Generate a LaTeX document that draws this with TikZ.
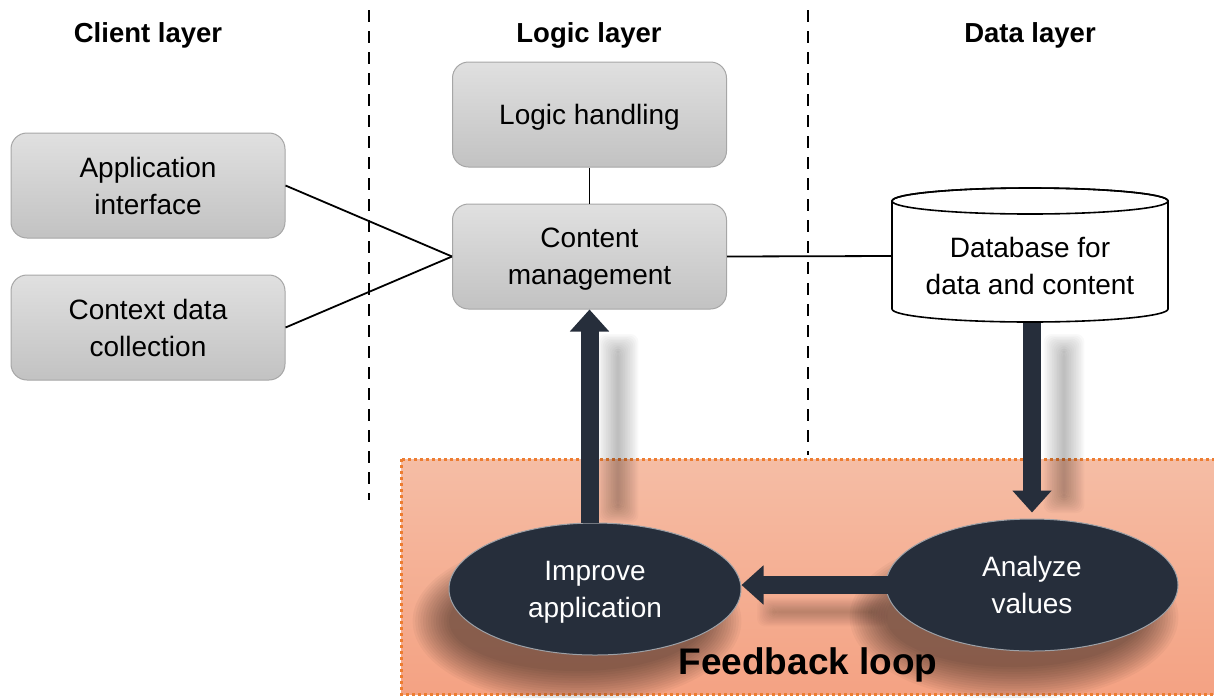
\documentclass[tikz,border=0pt]{standalone}
\usepackage{fontspec}
\setmainfont{Liberation Sans}
\usetikzlibrary{arrows.meta,shapes.geometric}
\definecolor{boxedge}{HTML}{A6A6A6}
\definecolor{boxtop}{HTML}{E0E0E0}
\definecolor{boxbot}{HTML}{C2C2C2}
\definecolor{navy}{HTML}{262E3B}
\definecolor{fbtop}{HTML}{F5BDA5}
\definecolor{fbbot}{HTML}{F4A283}
\definecolor{fbedge}{HTML}{ED7D31}
\begin{document}
\begin{tikzpicture}[x=1pt,y=-1pt,
  txt/.style={font=\fontsize{28}{37}\selectfont, align=center},
  heading/.style={font=\fontsize{27.5}{30}\selectfont\bfseries},
  graybox/.style={txt, text depth=0pt, rectangle, rounded corners=16pt, draw=boxedge, line width=1pt,
    top color=boxtop, bottom color=boxbot, minimum width=274pt, minimum height=105pt},
  darkell/.style={txt, text depth=0pt, ellipse, fill=navy, text=white, draw=white!55!navy, line width=1pt,
    minimum width=292pt, minimum height=132pt, inner sep=0pt},
  layerline/.style={line width=2.5pt, dash pattern=on 12pt off 9pt},
  conn/.style={line width=1.8pt, black},
  bigarrow/.style={line width=18pt, navy, -{Triangle[width=38pt,length=22pt]}},
  softshade/.style={black, opacity=#1},
  softshade/.default=0.03
]
\useasboundingbox (0,0) rectangle (1214,697);

% feedback area
\path[draw=fbedge, line width=3pt, dash pattern=on 3pt off 3pt, top color=fbtop, bottom color=fbbot]
  (401,459) rectangle (1224,694);

% layer separators
\coordinate (s1t) at (369,10);
\coordinate (s1b) at (369,500);
\coordinate (s2t) at (808,10);
\coordinate (s2b) at (808,455);
\draw[layerline] (s1t) -- (s1b);
\draw[layerline] (s2t) -- (s2b);

% headings
\node[heading] (h1) at (148,35) {Client layer};
\node[heading] (h2) at (589,35) {Logic layer};
\node[heading] (h3) at (1030,35) {Data layer};

% soft shadows of the arrows
\foreach \i in {1,...,12}{
  \fill[softshade=0.025, rounded corners=8pt] ({618-1.7*\i},{352-1.5*\i}) rectangle ({618+1.7*\i},{505+1.5*\i});
  \fill[softshade=0.025, rounded corners=8pt] ({1064-1.7*\i},{352-1.5*\i}) rectangle ({1064+1.7*\i},{495+1.5*\i});
  \fill[softshade=0.02, rounded corners=8pt] ({775-1.5*\i},{612-1.2*\i}) rectangle ({870+1.5*\i},{612+1.2*\i});
}
% soft shadows of the ellipses
\foreach \i in {0,...,14}{
  \fill[softshade=0.035] (577,621) ellipse [x radius={128pt+2.6pt*\i}, y radius={50pt+2.4pt*\i}];
  \fill[softshade=0.035] (1014,617) ellipse [x radius={128pt+2.6pt*\i}, y radius={50pt+2.4pt*\i}];
}

\node[font=\fontsize{37}{40}\selectfont\bfseries] (fbl) at (808,665) {Feedback loop};

% boxes
\node[graybox] (lh) at (589.5,114.5) {Logic handling};
\node[graybox] (cm) at (589.5,256.5) {Content\\management};
\node[graybox] (ai) at (148,185.5) {Application\\interface};
\node[graybox] (cd) at (148,327.5) {Context data\\collection};

% database area (invisible anchor node)
\node[minimum width=276pt, minimum height=110pt] (db) at (1030,256) {};

% ellipses
\node[darkell] (imp) at (595,589) {Improve\\application};
\node[darkell] (ana) at (1032,585) {Analyze\\values};

% big arrows
\draw[bigarrow] (imp.north -| cm.south) -- (cm.south);
\draw[bigarrow] ([yshift=-8pt]db.south -| ana.north) -- ([yshift=6pt]ana.north);
\draw[bigarrow] ([xshift=4pt]ana.west) -- (ana.west -| imp.east);

% connectors
\draw[conn] (ai.east) -- (cm.west);
\draw[conn] (cd.east) -- (cm.west);
\draw[conn] (lh.south) -- (cm.north);
\draw[conn] (cm.east) -- (db.west);

% cylinder
\path[draw=black, line width=1.6pt, fill=white]
  (892,201) -- (892,309) arc[start angle=180, end angle=360, x radius=138pt, y radius=13pt]
  -- (1168,201) arc[start angle=0, end angle=180, x radius=138pt, y radius=13pt] -- cycle;
\draw[line width=1.6pt] (1030,201) ellipse[x radius=138pt, y radius=13pt];
\node[txt] (dbt) at (1030,266) {Database for\\data and content};
\end{tikzpicture}
\end{document}
